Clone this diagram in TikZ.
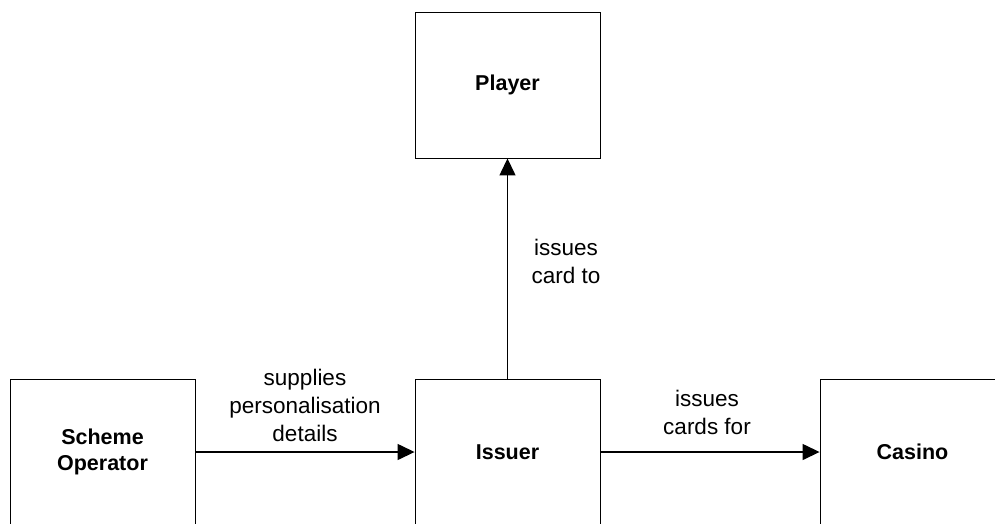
\documentclass[tikz,border=0pt]{standalone}
\usepackage{fontspec}
\setmainfont{Liberation Sans}
\usetikzlibrary{arrows.meta}
\begin{document}
\begin{tikzpicture}[x=1pt,y=-1pt,
  entity/.style={draw, line width=0.9pt, minimum width=185pt, minimum height=146pt,
    inner sep=0pt, align=center, font=\fontsize{21.5}{26}\selectfont\bfseries},
  flow/.style={line width=1.4pt, -{Triangle[length=17pt,width=16pt]}},
  lbl/.style={align=center, font=\fontsize{22.5}{28}\selectfont}]
  \clip (0,0) rectangle (995,523);
  \useasboundingbox (0,0) rectangle (995,523);

  % entities
  \node[entity] (player) at (507.5,85) {Player};
  \node[entity] (issuer) at (507.5,452) {Issuer};
  \node[entity] (operator) at (102.5,452) {Scheme\\Operator};
  \node[entity] (casino) at (912.5,452) {Casino};

  % relationships
  \draw[flow] (issuer.north) -- (player.south);
  \draw[flow] (operator.east) -- (issuer.west);
  \draw[flow] (issuer.east) -- (casino.west);

  % relationship labels
  \node[lbl] (lcard) at (566,261) {issues\\card to};
  \node[lbl] (lsupply) at (305,405) {supplies\\personalisation\\details};
  \node[lbl] (lfor) at (707,412) {issues\\cards for};
\end{tikzpicture}
\end{document}
